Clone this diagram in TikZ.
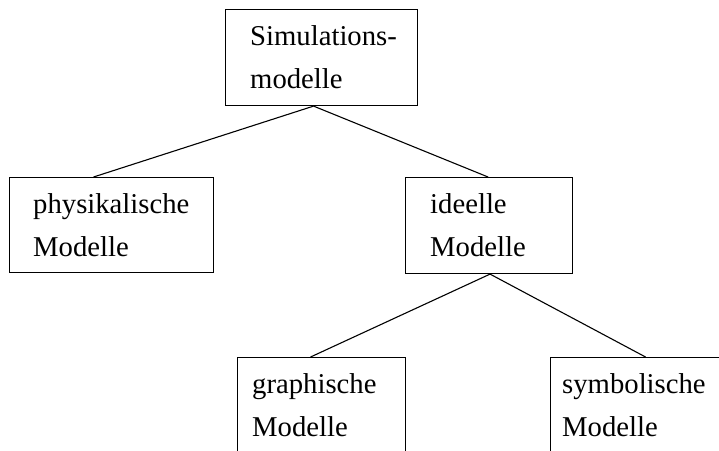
\documentclass[tikz,border=0pt]{standalone}
\usepackage{fontspec}
\setmainfont{Liberation Serif}
\begin{document}
\begin{tikzpicture}[x=1pt,y=-1pt,
  box/.style={draw=black,line width=1.1pt,rectangle,inner sep=0pt,anchor=north west},
  lbl/.style={anchor=base west,inner sep=0pt,font=\fontsize{28.7}{34}\selectfont},
  edge/.style={draw=black,line width=1.1pt}]
\useasboundingbox (0,0) rectangle (719,450);
\clip (0,0) rectangle (719,450);
\node[box,minimum width=192pt,minimum height=96pt] (top) at (225,9) {};
\node[box,minimum width=204pt,minimum height=95pt] (phys) at (9,177) {};
\node[box,minimum width=167pt,minimum height=96pt] (ide) at (405,177) {};
\node[box,minimum width=168pt,minimum height=120pt] (gra) at (237,357) {};
\node[box,minimum width=200pt,minimum height=120pt] (sym) at (550,357) {};
\node[lbl] (t1) at (250,45) {Simulations-};
\node[lbl] (t2) at (250,88) {modelle};
\node[lbl] (p1) at (33,213) {physikalische};
\node[lbl] (p2) at (33,256) {Modelle};
\node[lbl] (i1) at (430,213) {ideelle};
\node[lbl] (i2) at (430,256) {Modelle};
\node[lbl] (g1) at (252,393) {graphische};
\node[lbl] (g2) at (252,436) {Modelle};
\node[lbl] (s1) at (562,393) {symbolische};
\node[lbl] (s2) at (562,436) {Modelle};
\coordinate (topb) at ([xshift=-8pt]top.south);
\coordinate (physt) at ([xshift=-18pt]phys.north);
\coordinate (idet) at ([xshift=-1pt]ide.north);
\coordinate (ideb) at ([xshift=1pt]ide.south);
\coordinate (grat) at ([xshift=-11pt]gra.north);
\coordinate (symt) at ([xshift=-5pt]sym.north);
\draw[edge] (topb) -- (physt);
\draw[edge] (topb) -- (idet);
\draw[edge] (ideb) -- (grat);
\draw[edge] (ideb) -- (symt);
\end{tikzpicture}
\end{document}
